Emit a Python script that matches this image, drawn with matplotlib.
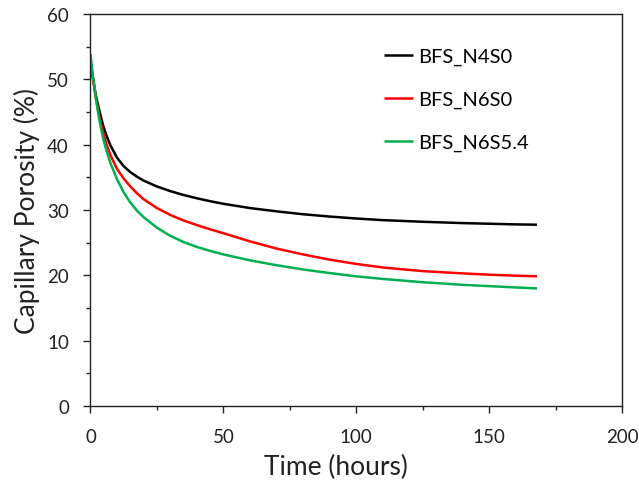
import matplotlib
matplotlib.use("Agg")
import matplotlib.pyplot as plt
from matplotlib.ticker import MultipleLocator

plt.rcParams['font.family'] = ['Lato', 'DejaVu Sans']

time_h = [0, 0.5, 1, 2, 3, 4, 5, 6, 7.5, 10, 12.5, 15, 17.5, 20, 25, 30, 35, 40, 45, 50,
          60, 70, 80, 90, 100, 110, 125, 140, 150, 160, 168]
bfs_n4s0 = [52.5, 51.2, 50.0, 47.6, 45.8, 44.1, 42.6, 41.4, 39.9, 38.0, 36.7, 35.8, 35.1, 34.5,
            33.6, 32.9, 32.3, 31.8, 31.35, 30.95, 30.3, 29.8, 29.35, 29.0, 28.7, 28.45, 28.2,
            28.0, 27.9, 27.8, 27.75]
bfs_n6s0 = [52.8, 51.3, 49.9, 47.2, 45.0, 43.1, 41.5, 40.1, 38.4, 36.3, 34.8, 33.6, 32.55, 31.65,
            30.3, 29.25, 28.4, 27.7, 27.05, 26.45, 25.2, 24.1, 23.2, 22.4, 21.75, 21.2, 20.65,
            20.3, 20.1, 19.95, 19.85]
bfs_n6s54 = [53.9, 52.0, 50.3, 47.2, 44.6, 42.4, 40.6, 39.1, 37.2, 34.7, 32.7, 31.15, 29.9, 28.9,
             27.3, 26.05, 25.1, 24.35, 23.75, 23.2, 22.3, 21.55, 20.9, 20.35, 19.85, 19.45,
             18.95, 18.55, 18.35, 18.15, 18.0]
series_labels = ["BFS_N4S0", "BFS_N6S0", "BFS_N6S5.4"]
series_colors = ["#000000", "#FF0000", "#00B050"]

fig = plt.figure(figsize=(6.39, 4.81), dpi=100)
ax = fig.add_axes([0.1416, 0.1538, 0.8318, 0.815])

for y, lab, c in zip([bfs_n4s0, bfs_n6s0, bfs_n6s54], series_labels, series_colors):
    ax.plot(time_h, y, color=c, lw=1.8, label=lab, solid_capstyle='butt', solid_joinstyle='round')

ax.set_xlim(0, 200)
ax.set_ylim(0, 60)
ax.xaxis.set_major_locator(MultipleLocator(50))
ax.xaxis.set_minor_locator(MultipleLocator(25))
ax.yaxis.set_major_locator(MultipleLocator(10))
ax.yaxis.set_minor_locator(MultipleLocator(5))
ax.tick_params(which='both', direction='out', top=False, right=False, width=1.0, color='#222222')
ax.tick_params(which='major', length=5, labelsize=13.5, labelcolor='#222222')
ax.tick_params(which='minor', length=3)
ax.tick_params(axis='x', which='major', pad=11)
ax.tick_params(axis='y', which='major', pad=10.5)
for s in ax.spines.values():
    s.set_linewidth(1.0)
    s.set_color('#222222')

ax.set_xlabel("Time (hours)", fontsize=19, color='#222222')
ax.set_ylabel("Capillary Porosity (%)", fontsize=19, color='#222222')
ax.xaxis.set_label_coords(0.462, -0.1225)
ax.yaxis.set_label_coords(-0.095, 0.5)

ax.legend(loc='upper left', bbox_to_anchor=(0.553, 0.913), frameon=False, fontsize=14.5,
          handlelength=1.4, handletextpad=0.25, labelspacing=1.27, borderpad=0, borderaxespad=0)

fig.savefig("out.png", dpi=100)
